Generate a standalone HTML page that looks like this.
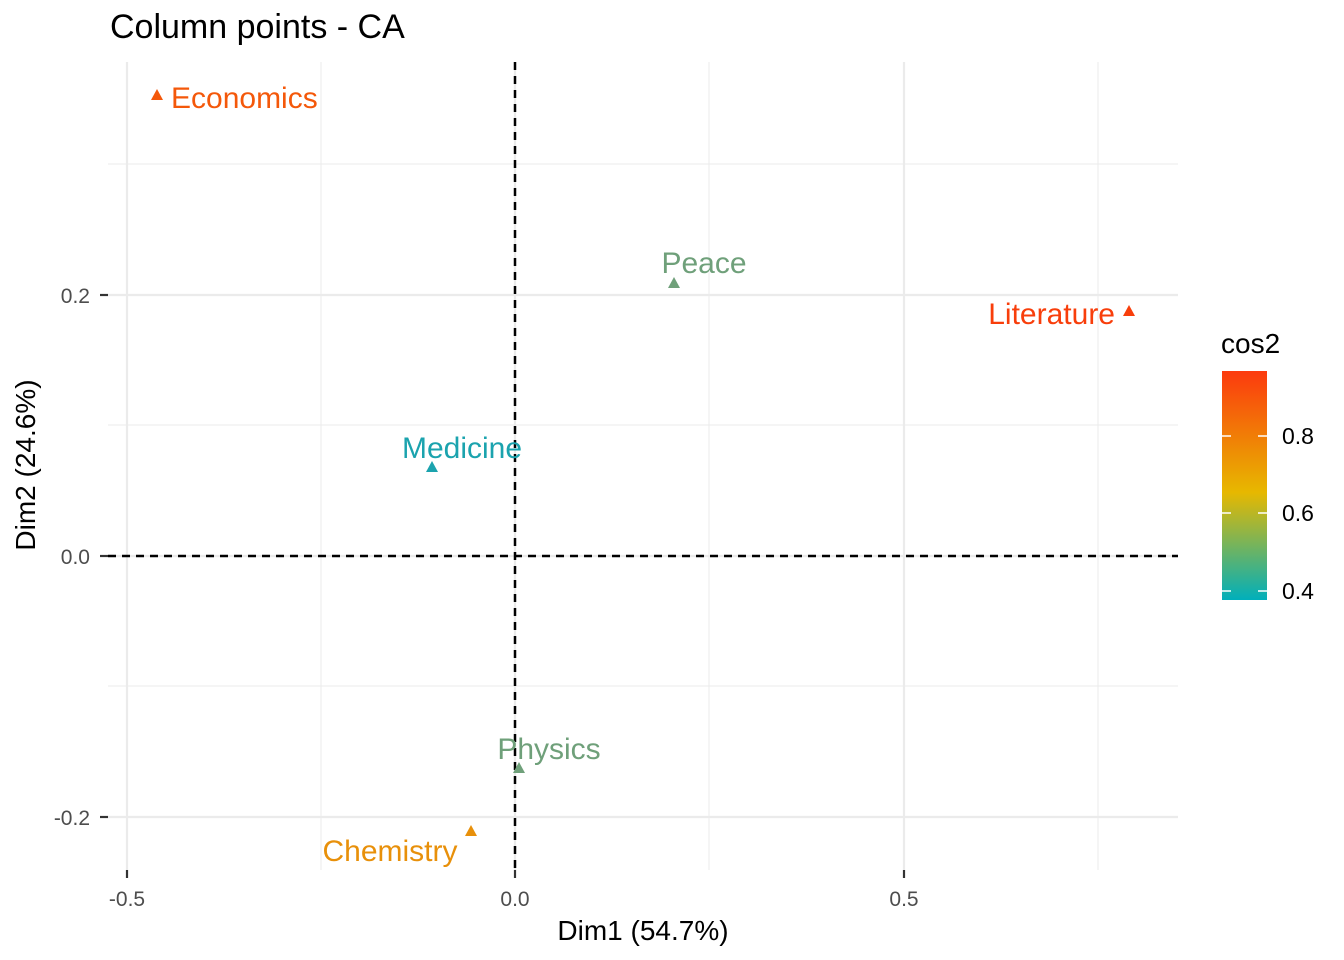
<!DOCTYPE html>
<html><head><meta charset="utf-8"><style>body{margin:0;background:#fff}svg{display:block}</style></head>
<body>
<svg width="1344" height="960" xmlns="http://www.w3.org/2000/svg" font-family="Liberation Sans, sans-serif">
<defs><linearGradient id="g" x1="0" y1="1" x2="0" y2="0">
<stop offset="0" stop-color="#00AFBB"/><stop offset="0.47" stop-color="#E7B800"/><stop offset="1" stop-color="#FC3A0E"/></linearGradient></defs>
<rect width="1344" height="960" fill="#fff"/>
<g stroke="#EBEBEB" stroke-width="1">
<line x1="321" y1="62" x2="321" y2="870"/><line x1="709" y1="62" x2="709" y2="870"/><line x1="1098" y1="62" x2="1098" y2="870"/>
<line x1="108" y1="164" x2="1178" y2="164"/><line x1="108" y1="425" x2="1178" y2="425"/><line x1="108" y1="686" x2="1178" y2="686"/>
</g>
<g stroke="#EBEBEB" stroke-width="2.2">
<line x1="127" y1="62" x2="127" y2="870"/><line x1="515" y1="62" x2="515" y2="870"/><line x1="904" y1="62" x2="904" y2="870"/>
<line x1="108" y1="295" x2="1178" y2="295"/><line x1="108" y1="556" x2="1178" y2="556"/><line x1="108" y1="817" x2="1178" y2="817"/>
</g>
<g stroke="#000" stroke-width="2.5" stroke-dasharray="8,6">
<line x1="515" y1="62" x2="515" y2="870"/><line x1="108" y1="556" x2="1178" y2="556"/>
</g>
<g stroke="#333" stroke-width="2.2">
<line x1="100" y1="295" x2="108" y2="295"/><line x1="100" y1="556" x2="108" y2="556"/><line x1="100" y1="817" x2="108" y2="817"/>
<line x1="127" y1="870" x2="127" y2="878"/><line x1="515" y1="870" x2="515" y2="878"/><line x1="904" y1="870" x2="904" y2="878"/>
</g>
<g font-size="21" fill="#4D4D4D">
<text x="90" y="303" text-anchor="end">0.2</text><text x="90" y="564" text-anchor="end">0.0</text><text x="90" y="825" text-anchor="end">-0.2</text>
<text x="127" y="906" text-anchor="middle">-0.5</text><text x="515" y="906" text-anchor="middle">0.0</text><text x="904" y="906" text-anchor="middle">0.5</text>
</g>
<text x="643" y="940" font-size="28" text-anchor="middle">Dim1 (54.7%)</text>
<text transform="translate(35,465) rotate(-90)" font-size="28" text-anchor="middle">Dim2 (24.6%)</text>
<text x="110" y="38" font-size="34">Column points - CA</text>
<g font-size="30">
<path d="M157,89 l6,11 h-12z" fill="#F4580A"/><text x="171" y="108" fill="#F4580A">Economics</text>
<path d="M674,277 l6,11 h-12z" fill="#6FA07A"/><text x="704" y="273" fill="#6FA07A" text-anchor="middle">Peace</text>
<path d="M1129,305 l6,11 h-12z" fill="#F83E0B"/><text x="1115" y="324" fill="#F83E0B" text-anchor="end">Literature</text>
<path d="M432,461 l6,11 h-12z" fill="#1BA3AE"/><text x="462" y="458" fill="#1BA3AE" text-anchor="middle">Medicine</text>
<path d="M519,762 l6,11 h-12z" fill="#6FA07A"/><text x="549" y="759" fill="#6FA07A" text-anchor="middle">Physics</text>
<path d="M471,825 l6,11 h-12z" fill="#E8900A"/><text x="390" y="861" fill="#E8900A" text-anchor="middle">Chemistry</text>
</g>
<text x="1221" y="353" font-size="28">cos2</text>
<rect x="1222" y="371" width="45" height="229" fill="url(#g)"/>
<g stroke="#fff" stroke-width="1.5">
<line x1="1222" y1="436" x2="1231" y2="436"/><line x1="1258" y1="436" x2="1267" y2="436"/>
<line x1="1222" y1="513" x2="1231" y2="513"/><line x1="1258" y1="513" x2="1267" y2="513"/>
<line x1="1222" y1="591" x2="1231" y2="591"/><line x1="1258" y1="591" x2="1267" y2="591"/>
</g>
<g font-size="23"><text x="1282" y="444">0.8</text><text x="1282" y="521">0.6</text><text x="1282" y="599">0.4</text></g>
</svg>
</body></html>
